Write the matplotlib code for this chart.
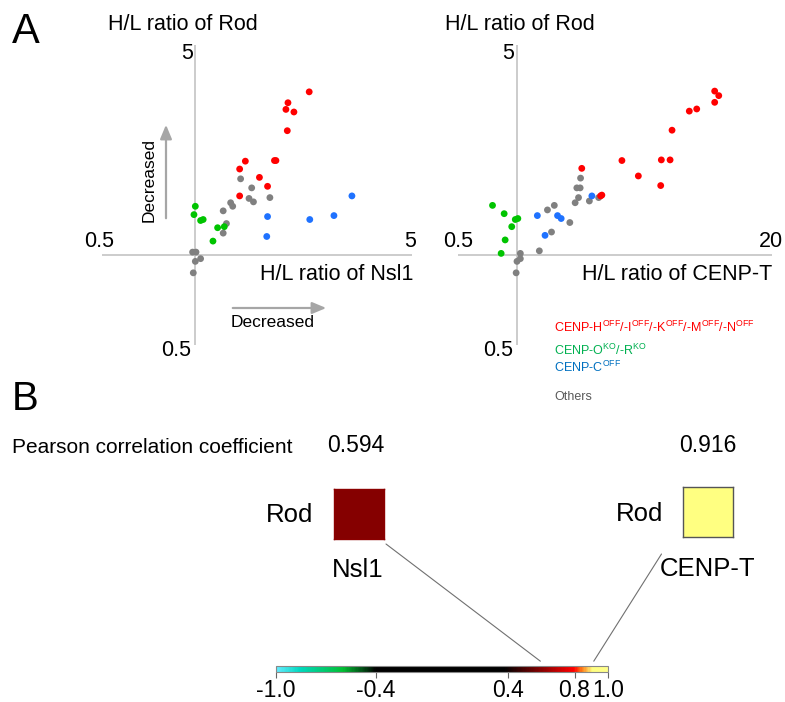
import matplotlib
matplotlib.use("Agg")
import matplotlib.pyplot as plt
from matplotlib.colors import LinearSegmentedColormap, Normalize
from matplotlib.patches import ConnectionPatch
import matplotlib.cm as cm
import numpy as np

plt.rcParams['font.family'] = ['Liberation Sans', 'DejaVu Sans']
plt.rcParams['mathtext.fontset'] = 'custom'
plt.rcParams['mathtext.rm'] = 'Liberation Sans'
plt.rcParams['mathtext.it'] = 'Liberation Sans:italic'
plt.rcParams['mathtext.bf'] = 'Liberation Sans:bold'

# ---------------- data ----------------
# Panel A, left: Nsl1 (x) vs Rod (y) H/L ratios
nsl1_red_x = [2.33, 1.99, 1.96, 2.08, 1.98, 1.45, 1.39, 1.80, 1.82, 1.61, 1.71, 1.39]
nsl1_red_y = [3.49, 3.21, 3.05, 2.99, 2.59, 2.05, 1.93, 2.06, 2.06, 1.81, 1.69, 1.57]
nsl1_gray_x = [1.40, 1.52, 1.49, 1.54, 1.74, 1.30, 1.32, 1.23, 1.26, 1.23, 0.98, 1.005, 1.04, 1.00, 0.985]
nsl1_gray_y = [1.79, 1.67, 1.54, 1.50, 1.55, 1.49, 1.45, 1.40, 1.27, 1.18, 1.02, 1.02, 0.97, 0.95, 0.87]
nsl1_green_x = [1.00, 0.99, 1.04, 1.06, 1.18, 1.24, 1.14]
nsl1_green_y = [1.45, 1.36, 1.30, 1.31, 1.23, 1.24, 1.11]
nsl1_blue_x = [3.20, 1.71, 2.34, 2.80, 1.70]
nsl1_blue_y = [1.57, 1.34, 1.31, 1.35, 1.15]

# Panel A, right: CENP-T (x) vs Rod (y) H/L ratios
cenpt_red_x = [10.2, 10.7, 10.2, 7.57, 8.26, 6.18, 3.43, 5.45, 6.04, 4.16, 5.41, 2.14, 2.71, 2.67]
cenpt_red_y = [3.51, 3.39, 3.22, 3.01, 3.06, 2.60, 2.06, 2.07, 2.07, 1.83, 1.70, 1.94, 1.58, 1.57]
cenpt_gray_x = [2.11, 2.02, 2.10, 2.06, 1.98, 2.34, 2.61, 1.55, 1.43, 1.86, 1.50, 1.30, 1.04, 1.04, 1.00, 0.99]
cenpt_gray_y = [1.80, 1.67, 1.67, 1.55, 1.49, 1.51, 1.55, 1.46, 1.41, 1.28, 1.19, 1.03, 1.01, 0.97, 0.95, 0.87]
cenpt_blue_x = [2.41, 1.27, 1.61, 1.68, 1.39]
cenpt_blue_y = [1.57, 1.35, 1.35, 1.32, 1.16]
cenpt_green_x = [0.75, 0.86, 0.98, 1.01, 0.94, 0.87, 0.83]
cenpt_green_y = [1.46, 1.37, 1.31, 1.32, 1.24, 1.12, 1.01]

legend_labels = [r"CENP-H$^{\mathrm{OFF}}$/-I$^{\mathrm{OFF}}$/-K$^{\mathrm{OFF}}$/-M$^{\mathrm{OFF}}$/-N$^{\mathrm{OFF}}$",
                 r"CENP-O$^{\mathrm{KO}}$/-R$^{\mathrm{KO}}$",
                 r"CENP-C$^{\mathrm{OFF}}$",
                 "Others"]

# Panel B
pearson_names = ["Nsl1", "CENP-T"]
pearson_values = [0.594, 0.916]
cbar_ticks = [-1.0, -0.4, 0.4, 0.8, 1.0]
cbar_ticklabels = ["-1.0", "-0.4", "0.4", "0.8", "1.0"]

# ---------------- styling ----------------
RED, GREEN, BLUE, GRAY = "#ff0000", "#00c400", "#1f72ff", "#808080"
LEG_COLORS = ["#ff0000", "#00b050", "#0070c0", "#595959"]
AXIS_C = "#c4c4c4"
ARROW_C = "#a6a6a6"

W, H = 785, 702
fig = plt.figure(figsize=(W / 100, H / 100), dpi=100)


def fx(x):
    return x / W


def fy(y):
    return 1 - y / H


def add_ax(x0, y0, x1, y1):
    return fig.add_axes([fx(x0), fy(y1), (x1 - x0) / W, (y1 - y0) / H])


def scatter_panel(ax, xmax, groups):
    ax.set_xscale('log')
    ax.set_yscale('log')
    ax.set_xlim(0.5, xmax)
    ax.set_ylim(0.5, 5)
    ax.axhline(1, color=AXIS_C, lw=1.2, zorder=1)
    ax.axvline(1, color=AXIS_C, lw=1.2, zorder=1)
    for xs, ys, c in groups:
        ax.scatter(xs, ys, s=24, color=c, edgecolors='none', zorder=3)
    ax.axis('off')


ax1 = add_ax(102, 45, 412, 345)
scatter_panel(ax1, 5, [(nsl1_gray_x, nsl1_gray_y, GRAY), (nsl1_green_x, nsl1_green_y, GREEN),
                       (nsl1_blue_x, nsl1_blue_y, BLUE), (nsl1_red_x, nsl1_red_y, RED)])
ax2 = add_ax(458, 45, 772, 345)
scatter_panel(ax2, 20, [(cenpt_gray_x, cenpt_gray_y, GRAY), (cenpt_green_x, cenpt_green_y, GREEN),
                        (cenpt_blue_x, cenpt_blue_y, BLUE), (cenpt_red_x, cenpt_red_y, RED)])

TICK_FS = 15.5
# left panel labels
fig.text(fx(12), fy(43), "A", fontsize=30, ha='left', va='baseline')
fig.text(fx(183), fy(30), "H/L ratio of Rod", fontsize=15.5, ha='center', va='baseline')
fig.text(fx(193), fy(59), "5", fontsize=TICK_FS, ha='right', va='baseline')
fig.text(fx(114), fy(247), "0.5", fontsize=TICK_FS, ha='right', va='baseline')
fig.text(fx(416), fy(247), "5", fontsize=TICK_FS, ha='right', va='baseline')
fig.text(fx(191), fy(356), "0.5", fontsize=TICK_FS, ha='right', va='baseline')
fig.text(fx(413), fy(280), "H/L ratio of Nsl1", fontsize=15.5, ha='right', va='baseline')

# arrows
fig.add_artist(matplotlib.patches.FancyArrowPatch((fx(230), fy(308)), (fx(329), fy(308)),
                                                  transform=fig.transFigure, arrowstyle='-|>,head_length=0.6,head_width=0.25',
                                                  mutation_scale=14, color=ARROW_C, lw=1.6))
fig.add_artist(matplotlib.patches.FancyArrowPatch((fx(166), fy(221)), (fx(166), fy(122)),
                                                  transform=fig.transFigure, arrowstyle='-|>,head_length=0.6,head_width=0.25',
                                                  mutation_scale=14, color=ARROW_C, lw=1.6))
fig.text(fx(231), fy(327), "Decreased", fontsize=12.5, ha='left', va='baseline')
fig.text(fx(149), fy(180), "Decreased", fontsize=12.5, ha='center', va='center', rotation=90)

# right panel labels
fig.text(fx(520), fy(30), "H/L ratio of Rod", fontsize=15.5, ha='center', va='baseline')
fig.text(fx(514), fy(59), "5", fontsize=TICK_FS, ha='right', va='baseline')
fig.text(fx(443), fy(247), "0.5", fontsize=TICK_FS, ha='left', va='baseline')
fig.text(fx(783), fy(247), "20", fontsize=TICK_FS, ha='right', va='baseline')
fig.text(fx(513), fy(356), "0.5", fontsize=TICK_FS, ha='right', va='baseline')
fig.text(fx(772), fy(280), "H/L ratio of CENP-T", fontsize=15.5, ha='right', va='baseline')

# legend
for lab, col, yb in zip(legend_labels, LEG_COLORS, [332, 355, 372, 400]):
    fig.text(fx(554), fy(yb), lab, fontsize=9, color=col, ha='left', va='baseline')

# ---------------- panel B ----------------
fig.text(fx(12), fy(410), "B", fontsize=29, ha='left', va='baseline')
fig.text(fx(12), fy(453), "Pearson correlation coefficient", fontsize=15, ha='left', va='baseline')

cmap = LinearSegmentedColormap.from_list("corr", [
    (0.0, (0.40, 0.92, 1.0)),
    (0.07, (0.0, 0.85, 0.75)),
    (0.2, (0.0, 0.75, 0.2)),
    (0.3, (0.0, 0.0, 0.0)),
    (0.69, (0.0, 0.0, 0.0)),
    (0.9, (1.0, 0.0, 0.0)),
    (0.925, (1.0, 0.5, 0.1)),
    (0.955, (1.0, 1.0, 0.5)),
    (1.0, (1.0, 1.0, 0.55)),
])
norm = Normalize(-1, 1)

cax = add_ax(276, 666, 607.7, 672)
cb = fig.colorbar(cm.ScalarMappable(norm=norm, cmap=cmap), cax=cax, orientation='horizontal',
                  ticks=cbar_ticks)
cb.set_ticklabels(cbar_ticklabels)
cb.outline.set_edgecolor('#888888')
cb.outline.set_linewidth(0.8)
cax.tick_params(axis='x', labelsize=16.5, length=4, width=0.8, color='#666666', pad=1)

square_boxes = [(334, 489, 384, 539), (683, 487, 733, 537)]
value_centers = [356, 708]
rod_right = [(313, 522), (663, 521)]
name_pos = [(358, 577, 'center'), (660, 576, 'left')]
line_start = [(1.04, -0.1), (-0.43, -0.34)]
edge_cols = ['#8b0000', '#555555']

for name, val, box, vc, rp, npos, ls, ec in zip(pearson_names, pearson_values, square_boxes,
                                                 value_centers, rod_right, name_pos, line_start, edge_cols):
    sax = add_ax(*box)
    sax.imshow(np.array([[val]]), cmap=cmap, norm=norm, aspect='auto')
    sax.set_xticks([])
    sax.set_yticks([])
    for sp in sax.spines.values():
        sp.set_edgecolor(ec)
        sp.set_linewidth(1.0)
    fig.text(fx(vc), fy(452), f"{val:.3f}", fontsize=16.5, ha='center', va='baseline')
    fig.text(fx(rp[0]), fy(rp[1]), "Rod", fontsize=18.5, ha='right', va='baseline')
    fig.text(fx(npos[0]), fy(npos[1]), name, fontsize=18.5, ha=npos[2], va='baseline')
    con = ConnectionPatch(xyA=ls, coordsA=sax.transAxes,
                          xyB=(val, 1.8), coordsB=cax.get_xaxis_transform(),
                          color='#707070', lw=0.8)
    fig.add_artist(con)

fig.savefig("out.png", dpi=100)
